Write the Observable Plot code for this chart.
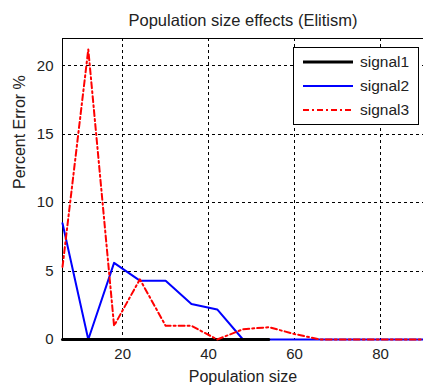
<!DOCTYPE html>
<html><head><meta charset="utf-8">
<script src="https://cdn.jsdelivr.net/npm/d3@7"></script>
<script src="https://cdn.jsdelivr.net/npm/@observablehq/plot@0.6"></script>
<style>body{margin:0;background:#fff}</style>
</head><body><div id="chart"></div>
<script>
const title = "Population size effects (Elitism)";
const xLabel = "Population size";
const yLabel = "Percent Error %";
const popSize = [6, 12, 18, 24, 30, 36, 42, 48, 54, 60, 66, 72, 78, 84, 90];
const signal1X = [6, 12, 18, 24, 30, 36, 42, 48, 54];
const signal1 = [0, 0, 0, 0, 0, 0, 0, 0, 0];
const signal2 = [8.5, 0, 5.6, 4.3, 4.3, 2.6, 2.2, 0, 0, 0, 0, 0, 0, 0, 0];
const signal3 = [5.3, 21.2, 1.0, 4.4, 1.0, 1.0, 0, 0.75, 0.9, 0.4, 0, 0, 0, 0, 0];
const xTicks = [20, 40, 60, 80];
const yTicks = [0, 5, 10, 15, 20];
const gridY = [5, 10, 15, 20];
const seriesNames = ["signal1", "signal2", "signal3"];
const seriesColors = ["#000000", "#0000ff", "#ff0000"];
const seriesWidths = [3, 2, 2];
const seriesDash = [null, null, "6,3,2,3"];

const W = 423, H = 385;
const rows = (xs, ys, name) => xs.map((x, i) => ({x, y: ys[i], name}));
const d1 = rows(signal1X, signal1, seriesNames[0]);
const d2 = rows(popSize, signal2, seriesNames[1]);
const d3s = rows(popSize, signal3, seriesNames[2]);
const font = "'Liberation Sans', Arial, sans-serif";

const chart = Plot.plot({
  width: W, height: H,
  marginTop: 38, marginLeft: 62, marginRight: 0, marginBottom: 46,
  style: {fontFamily: font, fontSize: "15px", color: "#222", background: "#fff", overflow: "visible"},
  x: {domain: [6, 90], ticks: xTicks},
  y: {domain: [0, 22], ticks: yTicks},
  marks: [
    Plot.ruleX(xTicks, {stroke: "#000", strokeWidth: 1, strokeDasharray: "3,3", shapeRendering: "crispEdges"}),
    Plot.ruleY(gridY, {stroke: "#000", strokeWidth: 1, strokeDasharray: "3,3", shapeRendering: "crispEdges"}),
    Plot.ruleX([6], {stroke: "#000", strokeWidth: 1, shapeRendering: "crispEdges"}),
    Plot.ruleY([22], {stroke: "#000", strokeWidth: 1, shapeRendering: "crispEdges"}),
    Plot.ruleY([0], {stroke: "#000", strokeWidth: 1, shapeRendering: "crispEdges"}),
    Plot.axisX({ticks: xTicks, tickSize: 0, tickPadding: 9, label: null, fontSize: 15}),
    Plot.axisY({ticks: yTicks, tickSize: 0, tickPadding: 9, label: null, fontSize: 15}),
    Plot.line(d2, {x: "x", y: "y", stroke: seriesColors[1], strokeWidth: seriesWidths[1]}),
    Plot.line(d1, {x: "x", y: "y", stroke: seriesColors[0], strokeWidth: seriesWidths[0]}),
    Plot.line(d3s, {x: "x", y: "y", stroke: seriesColors[2], strokeWidth: seriesWidths[2], strokeDasharray: seriesDash[2]}),
    Plot.text([title], {text: d => d, frameAnchor: "top", dy: -18, lineAnchor: "middle", fontSize: 16.5, fill: "#222"}),
    Plot.text([xLabel], {text: d => d, frameAnchor: "bottom", dy: 37, lineAnchor: "middle", fontSize: 16, fill: "#222"}),
    Plot.text([yLabel], {text: d => d, frameAnchor: "left", dx: -43, rotate: -90, lineAnchor: "middle", fontSize: 16, fill: "#222"})
  ]
});
document.getElementById("chart").appendChild(chart);

// Legend box (MATLAB-style), drawn into the same SVG
const svg = d3.select(chart);
const lg = svg.append("g").attr("text-anchor", "start");
const bx = 293, by = 47, bw = 125, bh = 77;
lg.append("rect").attr("x", bx + 0.5).attr("y", by + 0.5).attr("width", bw).attr("height", bh)
  .attr("fill", "#fff").attr("stroke", "#000").attr("stroke-width", 1);
const rowY = [62, 86, 110];
seriesNames.forEach((name, i) => {
  lg.append("line").attr("x1", 303).attr("x2", 353).attr("y1", rowY[i]).attr("y2", rowY[i])
    .attr("stroke", seriesColors[i]).attr("stroke-width", seriesWidths[i])
    .attr("stroke-dasharray", seriesDash[i]);
  lg.append("text").attr("x", 360).attr("y", rowY[i]).attr("dy", "0.35em")
    .attr("text-anchor", "start")
    .attr("font-family", font).attr("font-size", 15.5).attr("fill", "#222").text(name);
});
</script>
</body></html>
